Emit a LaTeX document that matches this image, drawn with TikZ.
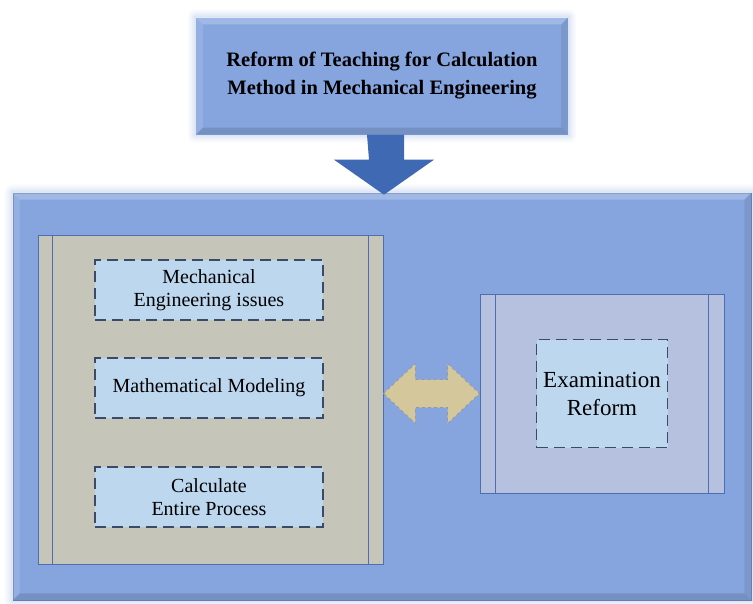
\documentclass[tikz,border=0pt]{standalone}
\usepackage{fontspec}
\setmainfont{Liberation Serif}
\usetikzlibrary{positioning,calc,backgrounds}

\definecolor{frameblue}{HTML}{86A5DF}
\definecolor{glowblue}{HTML}{7F9DDA}
\definecolor{arrowblue}{HTML}{3F69B3}
\definecolor{panelgray}{HTML}{C6C5BA}
\definecolor{panelline}{HTML}{4F6DB3}
\definecolor{issuefill}{HTML}{BDD7EF}
\definecolor{issueline}{HTML}{3B4A66}
\definecolor{examgray}{HTML}{B5C1DE}
\definecolor{linktan}{HTML}{D3C79B}

\tikzset{
  topbox/.style={fill=frameblue, minimum width=372, minimum height=117, align=center,
    font=\bfseries\fontsize{20.5}{28}\selectfont},
  frame/.style={fill=frameblue, draw=frameblue!80!black, line width=0.6pt},
  panel/.style={draw=panelline, line width=0.9pt},
  issue/.style={fill=issuefill, draw=issueline, line width=1.8pt, dash pattern=on 11pt off 6pt,
    minimum width=228, minimum height=60, align=center, font=\fontsize{20}{23}\selectfont},
}

\begin{document}
\begin{tikzpicture}[x=1pt,y=-1pt]
    \useasboundingbox (0,0) rectangle (753,603);

    % Title and outer frame
    \node[topbox] (title) at (382,76) {Reform of Teaching for Calculation\\Method in Mechanical Engineering};
    \node[frame, minimum width=738, minimum height=407] (outer) at (382,396.5) {};

    % Soft glow and bevel round both boxes
    \begin{scope}[on background layer]
        \foreach \n in {title,outer} {
            \foreach \d/\o in {8/0.05,6/0.06,4/0.08,2/0.1} {
                \fill[glowblue, opacity=\o, rounded corners=\d] ($(\n.north west)+(-\d,-\d)$) rectangle ($(\n.south east)+(\d,\d)$);
            }
        }
    \end{scope}
    \foreach \n in {title,outer} {
        \fill[white, opacity=0.22] (\n.north west) -- (\n.north east) -- ++(-7,7) -- ($(\n.north west)+(7,7)$) -- cycle;
        \fill[white, opacity=0.12] (\n.north west) -- (\n.south west) -- ++(7,-7) -- ($(\n.north west)+(7,7)$) -- cycle;
        \fill[black, opacity=0.12] (\n.south west) -- (\n.south east) -- ++(-7,-7) -- ($(\n.south west)+(7,-7)$) -- cycle;
        \fill[black, opacity=0.08] (\n.north east) -- (\n.south east) -- ++(-7,-7) -- ($(\n.north east)+(-7,7)$) -- cycle;
    }

    % Arrow from title down into the frame
    \coordinate (tip) at ($(outer.north)+(2,2)$);
    \fill[arrowblue] ($(title.south)+(-15,0)$) -- ($(title.south)+(22,0)$) -- ($(tip)+(20,-35)$)
        -- ($(tip)+(50,-35)$) -- (tip) -- ($(tip)+(-50,-35)$) -- ($(tip)+(-15,-35)$) -- cycle;

    % Left panel with the three steps
    \node[panel, fill=panelgray, minimum width=345, minimum height=329] (steps) at (210.5,399.5) {};
    \draw[panelline, line width=0.9pt] ($(steps.north west)+(15,0)$) -- ($(steps.south west)+(15,0)$);
    \draw[panelline, line width=0.9pt] ($(steps.north east)+(-15,0)$) -- ($(steps.south east)+(-15,0)$);
    \node[issue] (issues) at (209,290) {Mechanical\\Engineering issues};
    \node[issue] (model) at (209,388) {Mathematical Modeling};
    \node[issue] (calc) at (209,497) {Calculate\\Entire Process};

    % Right panel with the examination reform
    \node[panel, fill=examgray, minimum width=244, minimum height=199] (exam) at (602,393.5) {};
    \draw[panelline, line width=0.9pt] ($(exam.north west)+(16,0)$) -- ($(exam.south west)+(16,0)$);
    \draw[panelline, line width=0.9pt] ($(exam.north east)+(-16,0)$) -- ($(exam.south east)+(-16,0)$);
    \node[issue, minimum width=131, minimum height=108, inner sep=1pt, font=\fontsize{23}{28}\selectfont]
        (reform) at (exam.center) {Examination\\Reform};

    % Two-way link between the panels
    \coordinate (linkL) at (steps.east |- exam.west);
    \coordinate (linkR) at (exam.west);
    \filldraw[fill=linktan, draw=gray!80, dashed, line width=0.8pt]
        (linkL) -- ($(linkL)+(32,-30)$) -- ($(linkL)+(32,-14)$) -- ($(linkR)+(-32,-14)$) -- ($(linkR)+(-32,-30)$)
        -- (linkR) -- ($(linkR)+(-32,30)$) -- ($(linkR)+(-32,14)$) -- ($(linkL)+(32,14)$) -- ($(linkL)+(32,30)$) -- cycle;
\end{tikzpicture}
\end{document}
